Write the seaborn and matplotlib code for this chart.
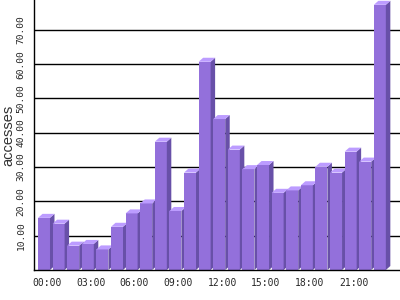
import matplotlib
matplotlib.use("Agg")
import matplotlib.pyplot as plt
import seaborn as sns
import pandas as pd
from matplotlib.patches import Polygon

hours = [f"{h:02d}:00" for h in range(24)]
accesses = [15.2, 13.5, 7.1, 7.6, 6.0, 12.6, 16.5, 19.4, 37.4, 17.2, 28.4, 60.7,
            44.0, 35.1, 29.4, 30.6, 22.5, 23.2, 24.7, 30.1, 28.4, 34.5, 31.6, 77.3]
y_ticks = [10, 20, 30, 40, 50, 60, 70]
x_tick_every = 3

front_color = "#9370DB"
side_color = "#6850A8"
top_color = "#BC9CFF"

df = pd.DataFrame({"hour": hours, "accesses": accesses})

sns.set_style("white")
fig = plt.figure(figsize=(4, 3), dpi=100)
ax = fig.add_axes([34 / 400, 30 / 300, 366 / 400, 270 / 300])

sns.barplot(data=df, x="hour", y="accesses", color=front_color, width=0.82,
            saturation=1, ax=ax, linewidth=0, zorder=10)

xmin, xmax = -0.685, 24.38
ymin, ymax = 0, 78.7
ax.set_xlim(xmin, xmax)
ax.set_ylim(ymin, ymax)

# pixel -> data conversion for depth effect
ax_w_px = 366
ax_h_px = 270
dx = 4.5 * (xmax - xmin) / ax_w_px
dy = 4.0 * (ymax - ymin) / ax_h_px

for i, p in enumerate(ax.patches[:len(accesses)]):
    x = p.get_x()
    w = p.get_width()
    h = p.get_height()
    z = 10 + i * 0.01
    p.set_zorder(z)
    p.set_alpha(1)
    p.set_edgecolor("none")
    side = Polygon([(x + w, 0), (x + w, h), (x + w + dx, h + dy), (x + w + dx, dy)],
                   closed=True, facecolor=side_color, edgecolor="none", zorder=z)
    top = Polygon([(x, h), (x + w, h), (x + w + dx, h + dy), (x + dx, h + dy)],
                  closed=True, facecolor=top_color, edgecolor="none", zorder=z)
    ax.add_patch(side)
    ax.add_patch(top)

for yv in y_ticks:
    ax.axhline(yv, color="black", linewidth=1.0, zorder=0.5)

ax.set_yticks(y_ticks)
ax.set_yticklabels([f"{v:.2f}" for v in y_ticks], rotation=90, va="center",
                   family="DejaVu Sans Mono", fontsize=6.8)
tick_pos = list(range(0, 24, x_tick_every))
ax.set_xticks([t + 0.2 for t in tick_pos])
ax.set_xticklabels([hours[t] for t in tick_pos], family="DejaVu Sans Mono", fontsize=7)
ax.tick_params(axis="both", length=0)
ax.tick_params(axis="x", pad=6)
ax.tick_params(axis="y", pad=6)

ax.set_xlabel("")
ax.set_ylabel("accesses", family="Liberation Sans", fontsize=10.5, color="#333333",
              labelpad=1)

for s in ["top", "right"]:
    ax.spines[s].set_visible(False)
for s in ["left", "bottom"]:
    ax.spines[s].set_color("black")
    ax.spines[s].set_linewidth(1.0)
    ax.spines[s].set_zorder(20)

fig.savefig("out.png", dpi=100)
